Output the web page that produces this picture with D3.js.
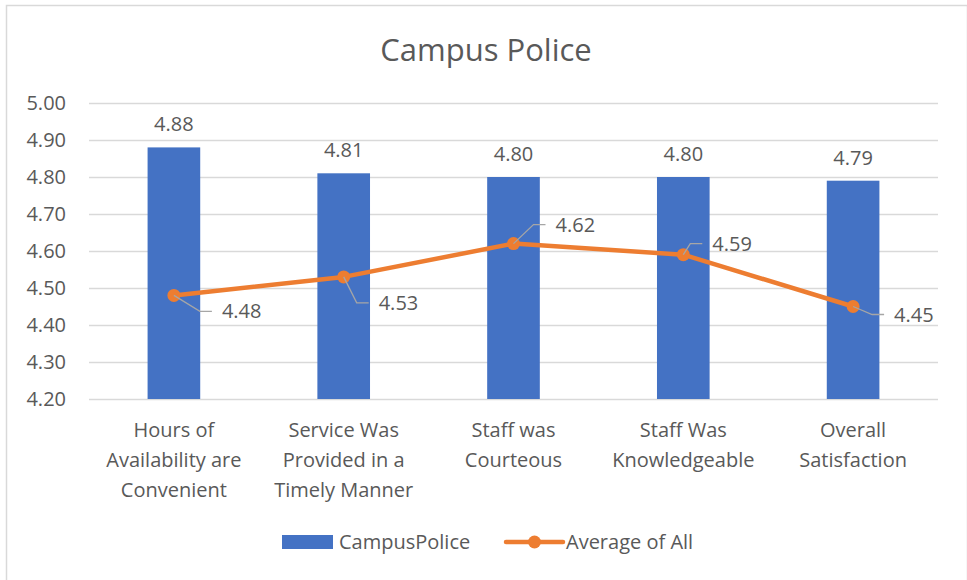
<!DOCTYPE html>
<html>
<head>
<meta charset="utf-8">
<script src="https://cdn.jsdelivr.net/npm/d3@7"></script>
<style>
  body { margin: 0; background: #fff; }
  svg text { font-family: "Open Sans", sans-serif; fill: #595959; }
</style>
</head>
<body>
<div id="chart"></div>
<script>
// ---- data ----
const categories = [
  ['Hours of', 'Availability are', 'Convenient'],
  ['Service Was', 'Provided in a', 'Timely Manner'],
  ['Staff was', 'Courteous'],
  ['Staff Was', 'Knowledgeable'],
  ['Overall', 'Satisfaction']
];
const campusPolice = [4.88, 4.81, 4.80, 4.80, 4.79];
const averageOfAll = [4.48, 4.53, 4.62, 4.59, 4.45];
const yTicks = [4.2, 4.3, 4.4, 4.5, 4.6, 4.7, 4.8, 4.9, 5.0];

// leader-line label placement for the line series (dx, dy of label from point)
const labelOffsets = [[48, 16], [35, 26], [42, -19], [29, -11], [41, 8]];

const W = 967, H = 580;
const M = { top: 103, right: 29, bottom: 181, left: 89 };
const innerW = W - M.left - M.right, innerH = H - M.top - M.bottom;
const FONT = '20px';

const svg = d3.select('#chart').append('svg').attr('width', W).attr('height', H);

// chart border
svg.append('rect')
  .attr('x', 6.5).attr('y', 5.5).attr('width', W - 6).attr('height', H)
  .attr('fill', 'none').attr('stroke', '#d9d9d9').attr('stroke-width', 1.5);

svg.append('text')
  .attr('x', 486).attr('y', 61).attr('text-anchor', 'middle')
  .style('font-size', '31px').text('Campus Police');

const g = svg.append('g').attr('transform', `translate(${M.left},${M.top})`);

const idx = d3.range(categories.length);
const x = d3.scaleBand().domain(idx).range([0, innerW]).paddingInner(0).paddingOuter(0);
const y = d3.scaleLinear().domain([4.2, 5.0]).range([innerH, 0]);
const bw = x.bandwidth() * 0.31;
const cx = i => x(i) + x.bandwidth() / 2;

// gridlines + y labels
g.append('g')
  .call(d3.axisLeft(y).tickValues(yTicks).tickSize(-innerW).tickFormat(d3.format('.2f')).tickPadding(23))
  .call(a => a.select('.domain').remove())
  .call(a => a.selectAll('line').attr('stroke', '#d9d9d9').attr('stroke-width', 1.3))
  .call(a => a.selectAll('text').style('font-size', FONT).attr('fill', '#595959')
    .style('font-family', '"Open Sans", sans-serif').attr('text-anchor', 'end'));

// bars
g.selectAll('rect.bar').data(campusPolice).enter().append('rect')
  .attr('class', 'bar')
  .attr('x', (d, i) => cx(i) - bw / 2).attr('width', bw)
  .attr('y', d => y(d)).attr('height', d => innerH - y(d))
  .attr('fill', '#4472c4');

g.selectAll('text.barlab').data(campusPolice).enter().append('text')
  .attr('class', 'barlab')
  .attr('x', (d, i) => cx(i)).attr('y', d => y(d) - 16)
  .attr('text-anchor', 'middle').style('font-size', FONT).attr('fill', '#404040')
  .text(d => d.toFixed(2));

// category labels
const catG = g.selectAll('text.cat').data(categories).enter().append('text')
  .attr('class', 'cat')
  .attr('x', (d, i) => cx(i)).attr('y', innerH + 38)
  .attr('text-anchor', 'middle').style('font-size', FONT);
catG.selectAll('tspan').data(d => d).enter().append('tspan')
  .attr('x', function () { return d3.select(this.parentNode).attr('x'); })
  .attr('dy', (d, i) => i === 0 ? 0 : 30)
  .text(d => d);

// line series
const line = d3.line().x((d, i) => cx(i)).y(d => y(d));
g.append('path').datum(averageOfAll)
  .attr('d', line).attr('fill', 'none')
  .attr('stroke', '#ed7d31').attr('stroke-width', 4.5).attr('stroke-linejoin', 'round');

g.selectAll('circle.pt').data(averageOfAll).enter().append('circle')
  .attr('class', 'pt')
  .attr('cx', (d, i) => cx(i)).attr('cy', d => y(d)).attr('r', 6.5)
  .attr('fill', '#ed7d31');

// leader lines + labels
averageOfAll.forEach((d, i) => {
  const px = cx(i), py = y(d);
  const [dx, dy] = labelOffsets[i];
  const hx = px + dx - 10;
  const kx = hx - 12;
  g.append('polyline')
    .attr('points', `${px},${py} ${kx},${py + dy} ${hx},${py + dy}`)
    .attr('fill', 'none').attr('stroke', '#a6a6a6').attr('stroke-width', 1.3);
  g.append('text')
    .attr('x', px + dx).attr('y', py + dy + 7)
    .style('font-size', FONT).attr('fill', '#404040')
    .text(d.toFixed(2));
});

// legend
const lg = svg.append('g');
lg.append('rect').attr('x', 282).attr('y', 535).attr('width', 51).attr('height', 14).attr('fill', '#4472c4');
lg.append('text').attr('x', 339).attr('y', 549).style('font-size', FONT).text('CampusPolice');
lg.append('line').attr('x1', 506).attr('x2', 563).attr('y1', 542).attr('y2', 542)
  .attr('stroke', '#ed7d31').attr('stroke-width', 4.5).attr('stroke-linecap', 'round');
lg.append('circle').attr('cx', 534.5).attr('cy', 542).attr('r', 6.5).attr('fill', '#ed7d31');
lg.append('text').attr('x', 566).attr('y', 549).style('font-size', FONT).text('Average of All');
</script>
</body>
</html>
